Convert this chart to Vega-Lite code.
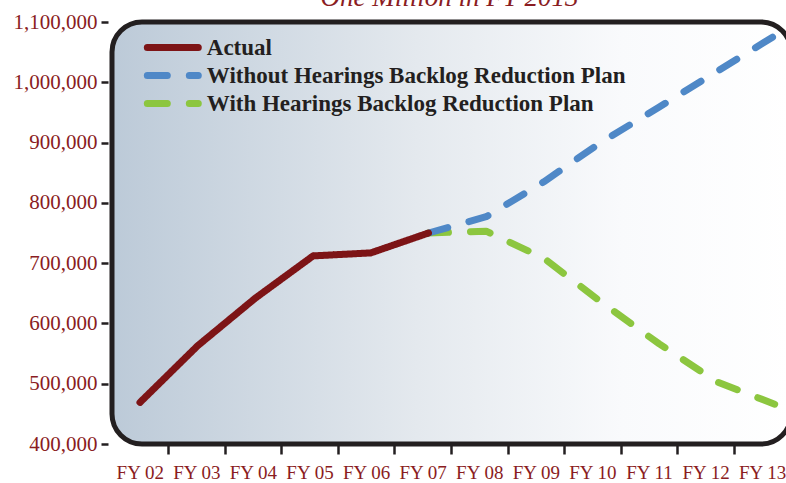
{
  "$schema": "https://vega.github.io/schema/vega-lite/v6.json",
  "width": 679,
  "height": 422,
  "autosize": {"type": "none"},
  "padding": {"left": 112, "top": 22, "right": -5, "bottom": 39},
  "config": {"view": {"stroke": null}, "font": "Liberation Serif"},
  "title": {
    "text": "One Million in FY 2013",
    "font": "Liberation Serif",
    "fontSize": 27,
    "fontStyle": "italic",
    "fontWeight": "normal",
    "color": "#8a1c22",
    "anchor": "middle",
    "frame": "group",
    "baseline": "alphabetic",
    "offset": -22,
    "zindex": 1,
    "dx": -2
  },
  "data": {
    "values": [
      {"series": "With Hearings Backlog Reduction Plan", "fy": 2007, "label": "FY 07", "value": 750000},
      {"series": "With Hearings Backlog Reduction Plan", "fy": 2008, "label": "FY 08", "value": 753000},
      {"series": "With Hearings Backlog Reduction Plan", "fy": 2009, "label": "FY 09", "value": 708000},
      {"series": "With Hearings Backlog Reduction Plan", "fy": 2010, "label": "FY 10", "value": 635000},
      {"series": "With Hearings Backlog Reduction Plan", "fy": 2011, "label": "FY 11", "value": 566000},
      {"series": "With Hearings Backlog Reduction Plan", "fy": 2012, "label": "FY 12", "value": 503000},
      {"series": "With Hearings Backlog Reduction Plan", "fy": 2013, "label": "FY 13", "value": 466000},
      {"series": "Without Hearings Backlog Reduction Plan", "fy": 2007, "label": "FY 07", "value": 750000},
      {"series": "Without Hearings Backlog Reduction Plan", "fy": 2008, "label": "FY 08", "value": 777000},
      {"series": "Without Hearings Backlog Reduction Plan", "fy": 2009, "label": "FY 09", "value": 835000},
      {"series": "Without Hearings Backlog Reduction Plan", "fy": 2010, "label": "FY 10", "value": 901000},
      {"series": "Without Hearings Backlog Reduction Plan", "fy": 2011, "label": "FY 11", "value": 959000},
      {"series": "Without Hearings Backlog Reduction Plan", "fy": 2012, "label": "FY 12", "value": 1018000},
      {"series": "Without Hearings Backlog Reduction Plan", "fy": 2013, "label": "FY 13", "value": 1077000},
      {"series": "Actual", "fy": 2002, "label": "FY 02", "value": 469000},
      {"series": "Actual", "fy": 2003, "label": "FY 03", "value": 563000},
      {"series": "Actual", "fy": 2004, "label": "FY 04", "value": 642000},
      {"series": "Actual", "fy": 2005, "label": "FY 05", "value": 712000},
      {"series": "Actual", "fy": 2006, "label": "FY 06", "value": 717000},
      {"series": "Actual", "fy": 2007, "label": "FY 07", "value": 750000}
    ]
  },
  "layer": [
    {
      "data": {"values": [{}]},
      "mark": {
        "type": "rect",
        "fill": {
          "gradient": "linear",
          "x1": 0, "y1": 0, "x2": 1, "y2": 0,
          "stops": [
            {"offset": 0, "color": "#bccad8"},
            {"offset": 0.45, "color": "#e4e9ee"},
            {"offset": 0.75, "color": "#f9fafc"},
            {"offset": 1, "color": "#ffffff"}
          ]
        },
        "stroke": "#231f20",
        "strokeWidth": 5,
        "cornerRadius": 30
      },
      "encoding": {}
    },
    {
      "mark": {"type": "point", "opacity": 0},
      "encoding": {
        "x": {
          "field": "label",
          "type": "ordinal",
          "scale": {"type": "band", "paddingInner": 0, "paddingOuter": 0},
          "axis": {
            "title": null,
            "bandPosition": 1,
            "domain": false,
            "grid": false,
            "tickColor": "#231f20",
            "tickWidth": 2.5,
            "tickSize": 10,
            "labelFont": "Liberation Serif",
            "labelFontSize": 19,
            "labelColor": "#8a1c22",
            "labelPadding": 9,
            "labelAngle": 0,
            "labelOverlap": false,
            "labelBound": false
          }
        }
      }
    },
    {
      "mark": {"type": "line", "strokeWidth": 7, "strokeCap": "round", "strokeJoin": "round"},
      "encoding": {
        "x": {
          "field": "fy",
          "type": "quantitative",
          "scale": {"domain": [2001.515, 2013.283], "nice": false, "zero": false},
          "axis": null
        },
        "y": {
          "field": "value",
          "type": "quantitative",
          "scale": {"domain": [400000, 1100000], "nice": false, "zero": false},
          "axis": {
            "title": null,
            "values": [400000, 500000, 600000, 700000, 800000, 900000, 1000000, 1100000],
            "format": ",d",
            "domain": false,
            "grid": false,
            "labelFont": "Liberation Serif",
            "labelFontSize": 21,
            "labelColor": "#8a1c22",
            "tickColor": "#231f20",
            "tickWidth": 2.5,
            "tickSize": 7,
            "offset": 4,
            "labelPadding": 4,
            "labelFlush": false,
            "labelOverlap": false,
            "labelBound": false
          }
        },
        "color": {
          "field": "series",
          "type": "nominal",
          "scale": {
            "domain": ["Actual", "Without Hearings Backlog Reduction Plan", "With Hearings Backlog Reduction Plan"],
            "range": ["#7d1416", "#4f88c7", "#8cc63f"]
          },
          "legend": {
            "orient": "none",
            "legendX": 46.8,
            "legendY": 11.5,
            "title": null,
            "symbolType": "M-2.5,0H2.5",
            "symbolSize": 416,
            "symbolStrokeWidth": 7,
            "labelFont": "Liberation Serif",
            "labelFontSize": 23,
            "labelFontWeight": "bold",
            "labelColor": "#231f20",
            "labelOffset": 20,
            "labelLimit": 0,
            "rowPadding": 0,
            "padding": 0,
            "encode": {"symbols": {"update": {"strokeCap": {"value": "round"}}}}
          }
        },
        "strokeDash": {
          "field": "series",
          "type": "nominal",
          "scale": {
            "domain": ["Actual", "Without Hearings Backlog Reduction Plan", "With Hearings Backlog Reduction Plan"],
            "range": [[1, 0], [20, 22], [20, 22]]
          },
          "legend": {
            "orient": "none",
            "legendX": 46.8,
            "legendY": 11.5,
            "title": null,
            "symbolType": "M-2.5,0H2.5",
            "symbolSize": 416,
            "symbolStrokeWidth": 7,
            "labelFont": "Liberation Serif",
            "labelFontSize": 23,
            "labelFontWeight": "bold",
            "labelColor": "#231f20",
            "labelOffset": 20,
            "labelLimit": 0,
            "rowPadding": 0,
            "padding": 0,
            "encode": {"symbols": {"update": {"strokeCap": {"value": "round"}}}}
          }
        }
      }
    }
  ],
  "resolve": {"scale": {"x": "independent"}}
}
